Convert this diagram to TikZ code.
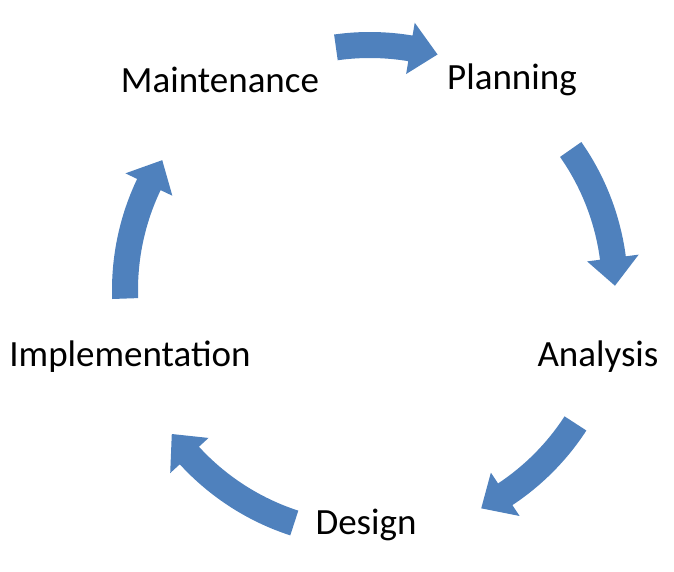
\documentclass[tikz,border=0pt]{standalone}
\usepackage{fontspec}
\setmainfont{Carlito}
\definecolor{arr}{HTML}{4F81BD}
\newcommand{\cycarrow}[2]{% start angle, end angle (clockwise)
  \fill[arr] (#1:258) arc[start angle=#1, end angle=#2+6.5, radius=258]
    -- (#2+6.5:271) -- (#2:245) -- (#2+6.5:219) -- (#2+6.5:232)
    arc[start angle=#2+6.5, end angle=#1, radius=232] -- cycle;}
\begin{document}
\begin{tikzpicture}[x=1pt,y=1pt,lbl/.style={font=\fontsize{37}{40}\selectfont,inner sep=0}]
\useasboundingbox (0,0) rectangle (674,571);
\node[lbl] (m) at (220,491) {Maintenance};
\node[lbl] (p) at (512,491) {Planning};
\node[lbl] (a) at (598,214) {Analysis};
\node[lbl] (d) at (366,46) {Design};
\node[lbl] (i) at (130,214) {Implementation};
\begin{scope}[shift={(370,281)}]
\cycarrow{98}{74}
\cycarrow{35}{1}
\cycarrow{-33}{-63}
\cycarrow{-108}{-144}
\cycarrow{-178}{-212}
\end{scope}
\end{tikzpicture}
\end{document}
